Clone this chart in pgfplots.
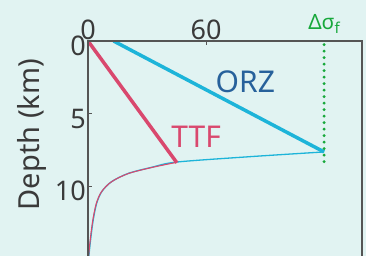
\documentclass[border=0pt]{standalone}
\usepackage{pgfplots}
\pgfplotsset{compat=1.18}
\usepackage{fontspec}
\setmainfont{Noto Sans}
\definecolor{bg}{HTML}{E1F3F2}
\definecolor{cyanl}{HTML}{1DB4D9}
\definecolor{redl}{HTML}{D9486E}
\definecolor{greenl}{HTML}{17A83B}
\definecolor{orzc}{HTML}{27619B}
\definecolor{tickc}{HTML}{3A3A3A}
\definecolor{axc}{HTML}{555555}
\begin{document}
\begin{tikzpicture}
\useasboundingbox (0,0) rectangle (366pt,-256pt);
\fill[bg] (0,0) rectangle (366pt,-256pt);
\clip (0,0) rectangle (366pt,-256pt);
\begin{axis}[
  at={(88pt,-41pt)}, anchor=north west,
  scale only axis, width=274pt, height=217.5pt,
  xmin=0, xmax=139.3, ymin=0, ymax=15,
  y dir=reverse,
  axis line style={draw=none},
  xtick={0,60}, ytick={0,5,10},
  xticklabel pos=upper, xtick pos=upper, ytick pos=left,
  tick align=inside, major tick length=4pt,
  tick style={axc, line width=1pt},
  ticklabel style={font=\fontsize{27}{30}\selectfont, text=tickc, inner sep=1pt},
  yticklabel style={yshift=-5pt, xshift=-1pt},
  /pgf/number format/assume math mode=true,
  ylabel={Depth (km)},
  ylabel style={font=\fontsize{29}{34}\selectfont, text=tickc, at={(axis description cs:-0.204,0.57)}, anchor=center, rotate=0},
  clip mode=individual,
]
% ORZ thick
\addplot[cyanl, line width=3.5pt] coordinates {(13,0) (120,7.65)};
% ORZ thin continuation
\addplot[cyanl, line width=1.3pt, smooth] coordinates {(120,7.65) (82,7.98) (45,8.35) (32.4,8.71) (20.5,9.13) (12,9.7) (7,10.39) (4.4,11.2) (2.7,12.3) (1.5,13.5) (0.5,14.76) (0.2,15.5)};
% TTF thick
\addplot[redl, line width=3.5pt] coordinates {(0,0) (45.2,8.4)};
% TTF thin continuation
\addplot[redl, line width=1.1pt, smooth] coordinates {(45,8.37) (32.2,8.73) (20.3,9.15) (11.8,9.72) (6.8,10.41) (4.2,11.22) (2.5,12.32) (1.3,13.52) (0.35,14.78) (0.1,15.5)};
% delta sigma_f
\addplot[greenl, line width=3.2pt, line cap=round, dash pattern=on 0pt off 6.5pt] coordinates {(120,0.25) (120,8.55)};
\draw[axc, line width=1.2pt] (axis cs:0,16) -- (axis cs:0,0) -- (axis cs:139.3,0) -- (axis cs:139.3,16);
\node[text=orzc, font=\fontsize{30}{36}\selectfont] at (axis cs:80,2.8) {ORZ};
\node[text=redl, font=\fontsize{30}{36}\selectfont] at (axis cs:55,6.6) {TTF};
\node[text=greenl, anchor=base, font=\fontsize{21}{25}\selectfont, inner sep=0pt] at (axis cs:120,0) [yshift=11pt] {Δσ\raisebox{-0.35ex}{\fontsize{15}{18}\selectfont f}};
\end{axis}
\end{tikzpicture}
\end{document}
